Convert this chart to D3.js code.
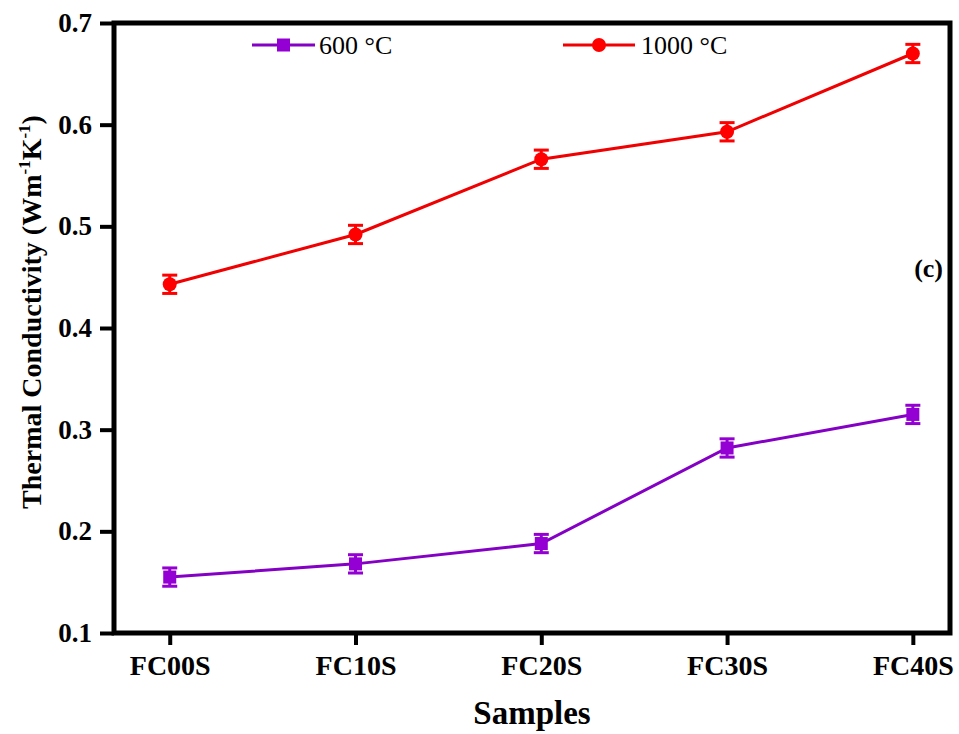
<!DOCTYPE html>
<html>
<head>
<meta charset="utf-8">
<script src="https://cdn.jsdelivr.net/npm/d3@7"></script>
<style>
  html, body { margin: 0; padding: 0; background: #fff; }
  svg { display: block; }
  text { font-family: "Liberation Serif", "Times New Roman", serif; fill: #000; }
</style>
</head>
<body>
<svg id="chart" width="959" height="734"></svg>
<script>
// Samples and thermal conductivity (W m^-1 K^-1) after firing at two temperatures
const samples = ["FC00S", "FC10S", "FC20S", "FC30S", "FC40S"];
const k600 = [0.155, 0.168, 0.188, 0.282, 0.315];
const k1000 = [0.443, 0.492, 0.566, 0.593, 0.670];
const err600 = [0.009, 0.009, 0.009, 0.009, 0.009];
const err1000 = [0.009, 0.009, 0.009, 0.009, 0.009];
const yTicks = [0.1, 0.2, 0.3, 0.4, 0.5, 0.6, 0.7];
const seriesNames = ["600 °C", "1000 °C"];

const series = [
  { name: seriesNames[0], values: k600, errors: err600, color: "#9400d3", line: "#8400c4", marker: "square" },
  { name: seriesNames[1], values: k1000, errors: err1000, color: "#ff0000", line: "#f00000", marker: "circle" }
];

const svg = d3.select("#chart");
const frame = { left: 114, right: 950, top: 23, bottom: 633 };

const x = d3.scalePoint().domain(samples).range([frame.left, frame.right]).padding(0.25).align(0.6);
const y = d3.scaleLinear().domain([0.1, 0.7]).range([frame.bottom, frame.top]);

// Y axis (ticks and labels on the left)
const yAxis = svg.append("g")
  .attr("transform", `translate(${frame.left},0)`)
  .call(d3.axisLeft(y).tickValues(yTicks).tickSize(14).tickPadding(8).tickFormat(d3.format(".1f")));
yAxis.select(".domain").remove();
yAxis.selectAll(".tick line").attr("stroke", "#000").attr("stroke-width", 4);
yAxis.selectAll(".tick text")
  .style("font-size", "27px").style("font-weight", "bold")
  .attr("font-family", null);

// X axis (category ticks below)
const xAxis = svg.append("g")
  .attr("transform", `translate(0,${frame.bottom})`)
  .call(d3.axisBottom(x).tickSize(12).tickPadding(10));
xAxis.select(".domain").remove();
xAxis.selectAll(".tick line").attr("stroke", "#000").attr("stroke-width", 4);
xAxis.selectAll(".tick text")
  .style("font-size", "28px").style("font-weight", "bold")
  .attr("font-family", null);

// Plot frame
svg.append("rect")
  .attr("x", frame.left).attr("y", frame.top)
  .attr("width", frame.right - frame.left).attr("height", frame.bottom - frame.top)
  .attr("fill", "none").attr("stroke", "#000").attr("stroke-width", 5);

// Axis titles
svg.append("text")
  .attr("x", 532).attr("y", 724)
  .attr("text-anchor", "middle")
  .style("font-size", "33px").style("font-weight", "bold")
  .text("Samples");

const yTitle = svg.append("text")
  .attr("transform", "translate(41,312) rotate(-90)")
  .attr("text-anchor", "middle")
  .style("font-size", "28px").style("font-weight", "bold");
yTitle.append("tspan").text("Thermal Conductivity (Wm");
yTitle.append("tspan").attr("dy", -11).style("font-size", "17px").text("-1");
yTitle.append("tspan").attr("dy", 11).text("K");
yTitle.append("tspan").attr("dy", -11).style("font-size", "17px").text("-1");
yTitle.append("tspan").attr("dy", 11).text(")");

// Panel tag
svg.append("text")
  .attr("x", 943).attr("y", 277).attr("text-anchor", "end")
  .style("font-size", "26px").style("font-weight", "bold")
  .text("(c)");

function drawMarker(g, type, cx, cy, color) {
  if (type === "square") {
    g.append("rect").attr("x", cx - 6.5).attr("y", cy - 6.5).attr("width", 13).attr("height", 13)
      .attr("fill", color);
  } else {
    g.append("circle").attr("cx", cx).attr("cy", cy).attr("r", 7).attr("fill", color);
  }
}

const line = d3.line().x((d, i) => x(samples[i])).y(d => y(d));

series.forEach(s => {
  const g = svg.append("g");
  g.append("path").datum(s.values)
    .attr("d", line).attr("fill", "none")
    .attr("stroke", s.line).attr("stroke-width", 3);

  s.values.forEach((v, i) => {
    const cx = x(samples[i]);
    const lo = y(v - s.errors[i]), hi = y(v + s.errors[i]);
    g.append("line").attr("x1", cx).attr("x2", cx).attr("y1", lo).attr("y2", hi)
      .attr("stroke", s.color).attr("stroke-width", 3);
    [lo, hi].forEach(yy => g.append("line")
      .attr("x1", cx - 7.5).attr("x2", cx + 7.5).attr("y1", yy).attr("y2", yy)
      .attr("stroke", s.color).attr("stroke-width", 3));
    drawMarker(g, s.marker, cx, y(v), s.color);
  });
});

// Legend
const legendItems = [
  { s: series[0], x0: 252, x1: 315, tx: 319 },
  { s: series[1], x0: 563, x1: 635, tx: 641 }
];
legendItems.forEach(it => {
  const g = svg.append("g");
  const ly = 45;
  g.append("line").attr("x1", it.x0).attr("x2", it.x1).attr("y1", ly).attr("y2", ly)
    .attr("stroke", it.s.line).attr("stroke-width", 3);
  drawMarker(g, it.s.marker, (it.x0 + it.x1) / 2, ly, it.s.color);
  g.append("text").attr("x", it.tx).attr("y", ly + 9)
    .style("font-size", "26px")
    .text(it.s.name);
});
</script>
</body>
</html>
